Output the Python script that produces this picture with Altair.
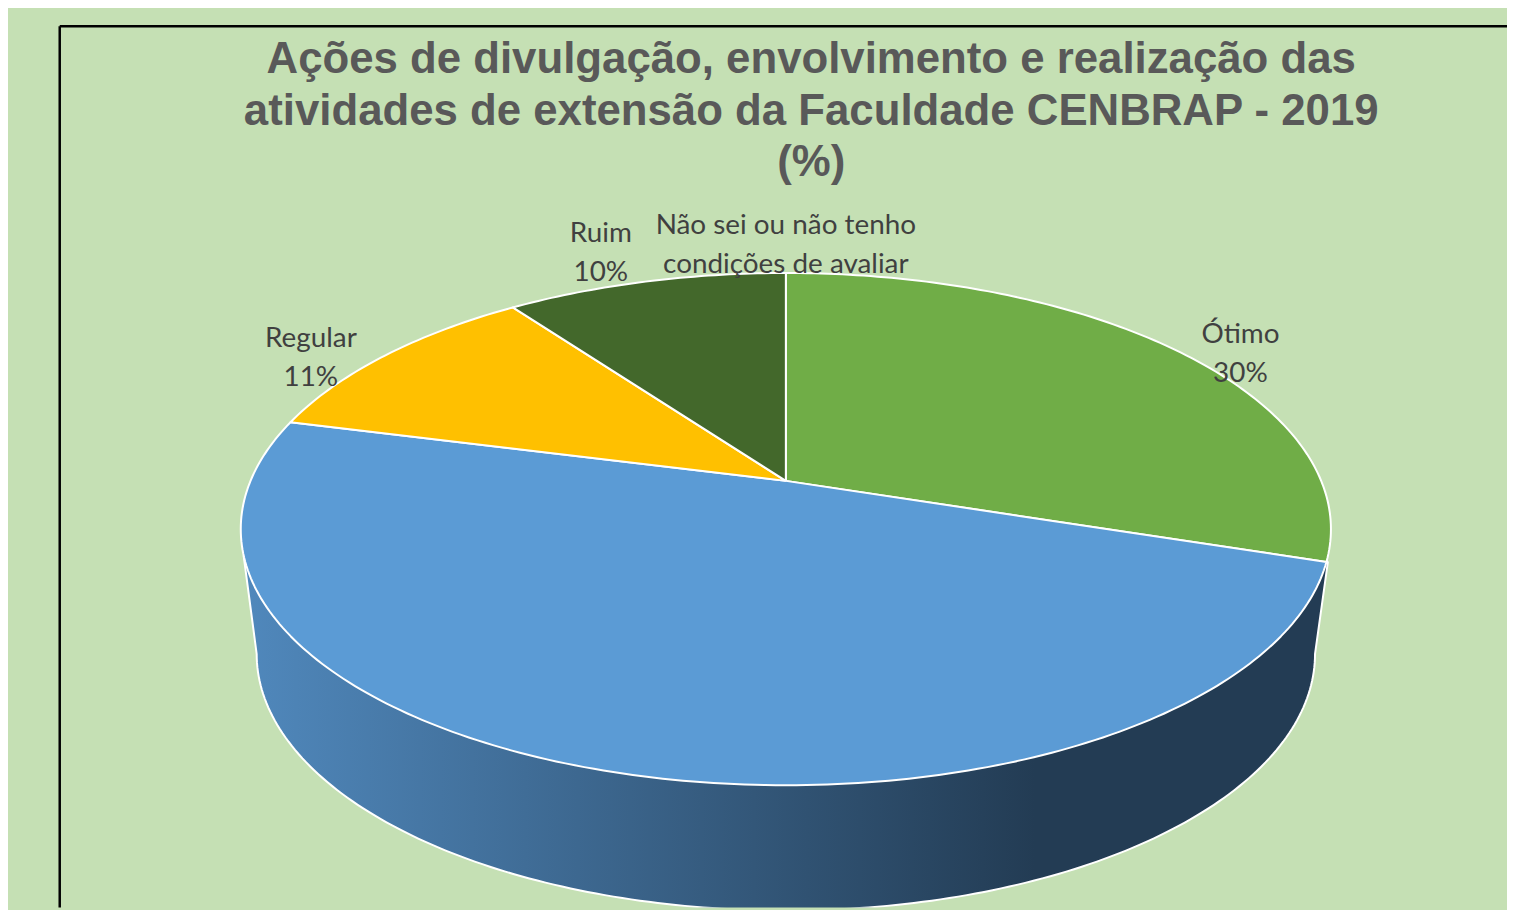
import numpy as np
import pandas as pd
import altair as alt

# --- chart values -----------------------------------------------------------
categories = ["Ótimo", "Bom", "Regular", "Ruim", "Não sei ou não tenho\ncondições de avaliar"]
labels_shown = ["Ótimo", None, "Regular", "Ruim", "Não sei ou não tenho\ncondições de avaliar"]
values = [30, 49, 11, 10, 0]
colors = ["#70AD47", "#5B9BD5", "#FFC000", "#43682B", "#264478"]
title_lines = [
    "Ações de divulgação, envolvimento e realização das",
    "atividades de extensão da Faculdade CENBRAP - 2019",
    "(%)",
]

# --- layout of the tilted pie (page pixels) ---------------------------------
W, H = 1507, 902
APEX_X, APEX_Y, TOP_Y, BOT_Y = 790.0, 481.0, 272.0, 787.0
HALF_W = 548.0
k = ((BOT_Y - APEX_Y) - (APEX_Y - TOP_Y)) / (BOT_Y + TOP_Y - 0) * 0 + 97.0 / 515.0
q = TOP_Y * (1 + k) - APEX_Y
A = HALF_W * np.sqrt(1 - k ** 2)


def rim(pct):
    th = np.radians(np.asarray(pct, dtype=float) * 3.6)
    X, Y = np.sin(th), np.cos(th)
    d = 1 + k * Y
    return APEX_X + A * X / d, (APEX_Y + q * Y) / d


def polygon(xs, ys):
    xs, ys = list(xs), list(ys)
    xs.append(xs[0])
    ys.append(ys[0])
    return pd.DataFrame({"x": xs, "y": ys, "i": range(len(xs))})


x_enc = alt.X("x:Q", scale=alt.Scale(domain=[8, 8 + W], nice=False, zero=False), axis=None)
y_enc = alt.Y("y:Q", scale=alt.Scale(domain=[8 + H, 8], nice=False, zero=False), axis=None)
order = alt.Order("i:Q")

# side wall
LOW_CX, LOW_CY, LOW_RX, LOW_RY = 790.0, 655.0, 532.0, 258.0
t = np.radians(np.linspace(0, 180, 181))
wall_x = [1335.0] + list(LOW_CX + LOW_RX * np.cos(t)) + [245.0]
wall_y = [562.0] + list(LOW_CY + LOW_RY * np.sin(t)) + [557.0]
wall = alt.Chart(polygon(wall_x, wall_y)).mark_line(
    stroke="white",
    strokeWidth=2,
    clip=True,
    fill=alt.Gradient(
        gradient="linear", x1=0, x2=1, y1=0, y2=0,
        stops=[
            alt.GradientStop(color="#5088BC", offset=0),
            alt.GradientStop(color="#233C54", offset=0.73),
            alt.GradientStop(color="#233C54", offset=1),
        ],
    ),
).encode(x=x_enc, y=y_enc, order=order)

# top slices
layers = [wall]
start = 0.0
for value, color in zip(values, colors):
    if value > 0:
        pcts = np.linspace(start, start + value, max(int(value * 4), 2) + 1)
        rx, ry = rim(pcts)
        df = polygon([APEX_X] + list(rx), [APEX_Y] + list(ry))
        layers.append(
            alt.Chart(df).mark_line(fill=color, stroke="white", strokeWidth=2, strokeJoin="round")
            .encode(x=x_enc, y=y_enc, order=order)
        )
    start += value

# labels: anchored on each slice's rim midpoint, then nudged outward
nudges = [(65, -15), None, (-75, -16), (-45, -48), (0, -47)]
rows = []
start = 0.0
for name, value, nudge in zip(labels_shown, values, nudges):
    mid = start + value / 2
    start += value
    if name is None:
        continue
    ax, ay = rim(mid)
    text = name if value == 0 else f"{name}\n{value}%"
    rows.append({"x": float(ax) + nudge[0], "y": float(ay) + nudge[1], "text": text})

labels = alt.Chart(pd.DataFrame(rows)).mark_text(
    font="Lato", fontSize=28, color="#404040", align="center", baseline="middle",
    lineBreak="\n", lineHeight=39,
).encode(x=x_enc, y=y_enc, text="text:N")

frame_h = pd.DataFrame({"x": [60, 1515], "y": [24, 24]})
frame_v = pd.DataFrame({"x": [60, 60], "y": [24, 910]})
frames = [
    alt.Chart(d).mark_line(color="black", strokeWidth=2.5).encode(x=x_enc, y=y_enc)
    for d in (frame_h, frame_v)
]

chart = alt.layer(*frames, *layers, labels).properties(
    width=W,
    height=H,
    padding=0,
    autosize=alt.AutoSizeParams(type="none"),
    background="#C5E0B4",
    title=alt.TitleParams(
        text=title_lines,
        font="Liberation Sans",
        fontSize=44,
        fontWeight="bold",
        color="#595959",
        lineHeight=52,
        anchor="middle",
        frame="group",
        dx=54,
        dy=180,
    ),
).configure_view(stroke=None)

chart.save("out.html", embed_options={"renderer": "svg", "actions": False})
